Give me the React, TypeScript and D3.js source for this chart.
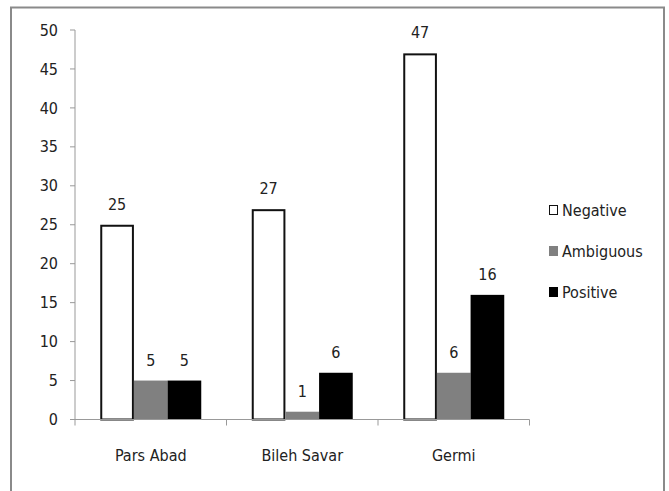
import React from "react";
import * as d3 from "d3";

const categories = ["Pars Abad", "Bileh Savar", "Germi"];
const seriesNames = ["Negative", "Ambiguous", "Positive"];
const negative = [25, 27, 47];
const ambiguous = [5, 1, 6];
const positive = [5, 6, 16];
const yTicks = [0, 5, 10, 15, 20, 25, 30, 35, 40, 45, 50];
const seriesFill = ["#ffffff", "#808080", "#000000"];

const W = 669;
const H = 491;
const font = "'Liberation Sans Narrow', 'DejaVu Sans Condensed', 'Open Sans', sans-serif";
const fs = 16;

export default function App() {
  const x0 = 75, x1 = 529.5, yTop = 30, yBot = 419.5;
  const y = d3.scaleLinear().domain([0, 50]).range([yBot, yTop]);
  const xb = d3.scaleBand().domain(categories).range([x0, x1]).paddingInner(0).paddingOuter(0);
  const inner = d3.scaleBand().domain(seriesNames).range([0, xb.bandwidth()]).paddingOuter(0.75).paddingInner(0);
  const data = [negative, ambiguous, positive];

  return (
    <svg width={W} height={H} style={{ position: "absolute", left: 0, top: 0, background: "#fff" }}>
      <rect x={11} y={7.5} width={653} height={500} fill="#fff" stroke="#8a8a8a" strokeWidth={2} />
      {/* y axis */}
      <line x1={x0} x2={x0} y1={yTop} y2={yBot} stroke="#999" strokeWidth={1} />
      {yTicks.map((t) => (
        <g key={t}>
          <line x1={x0 - 5} x2={x0} y1={y(t)} y2={y(t)} stroke="#999" />
          <text x={x0 - 17} y={y(t)} dy="0.35em" textAnchor="end" fontFamily={font} fontSize={fs} fill="#222">
            {t}
          </text>
        </g>
      ))}
      {/* bars */}
      {categories.map((c, ci) => (
        <g key={c}>
          {seriesNames.map((s, si) => {
            const bx = (xb(c) as number) + (inner(s) as number);
            const bw = inner.bandwidth();
            const v = data[si][ci];
            const isNeg = si === 0;
            return (
              <g key={s}>
                <rect
                  x={isNeg ? bx + 1 : bx}
                  y={isNeg ? y(v) + 1 : y(v)}
                  width={isNeg ? bw - 2 : bw}
                  height={isNeg ? y(0) - y(v) - 1 : y(0) - y(v)}
                  fill={seriesFill[si]}
                  stroke={isNeg ? "#111" : "none"}
                  strokeWidth={2}
                />
                <text x={bx + bw / 2} y={y(v) - 15} textAnchor="middle" fontFamily={font} fontSize={fs} fill="#222">
                  {v}
                </text>
              </g>
            );
          })}
        </g>
      ))}
      {/* x axis */}
      <line x1={x0 - 5} x2={x1} y1={yBot} y2={yBot} stroke="#999" />
      {[...categories.map((c) => xb(c) as number), x1].map((t, i) => (
        <line key={i} x1={t} x2={t} y1={yBot} y2={yBot + 6} stroke="#999" />
      ))}
      {categories.map((c) => (
        <text key={c} x={(xb(c) as number) + xb.bandwidth() / 2} y={461} textAnchor="middle" fontFamily={font} fontSize={fs} fill="#222">
          {c}
        </text>
      ))}
      {/* legend */}
      {seriesNames.map((s, i) => {
        const ly = 210 + i * 41;
        return (
          <g key={s}>
            <rect
              x={i === 0 ? 549.5 : 549}
              y={i === 0 ? ly - 4.5 : ly - 5}
              width={i === 0 ? 8 : 9}
              height={i === 0 ? 9 : 10}
              fill={seriesFill[i]}
              stroke={i === 0 ? "#111" : "none"}
              strokeWidth={1}
            />
            <text x={562} y={ly} dy="0.35em" fontFamily={font} fontSize={fs} fill="#222">
              {s}
            </text>
          </g>
        );
      })}
    </svg>
  );
}
